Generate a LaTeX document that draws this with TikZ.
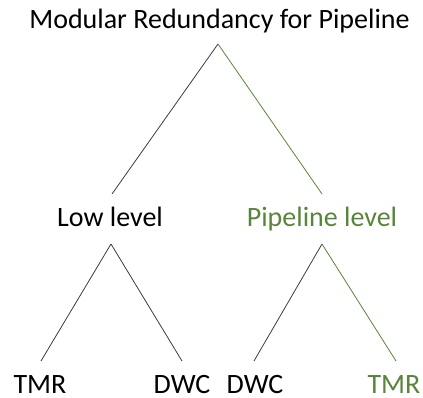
\documentclass[tikz,border=0pt]{standalone}
\usepackage{fontspec}
\setmainfont{Carlito}
\definecolor{leafgreen}{RGB}{88,133,58}
\definecolor{linegray}{RGB}{60,60,60}
\begin{document}
\begin{tikzpicture}[x=1pt,y=-1pt,
  label/.style={font=\fontsize{28}{30}\selectfont, inner sep=0pt, anchor=base},
  edge/.style={draw=linegray, line width=0.8pt},
  greenedge/.style={draw=leafgreen, line width=0.8pt}]
\useasboundingbox (0,0) rectangle (423,398);

% labels
\node[label] (title) at (219.5,29) {Modular Redundancy for Pipeline};
\node[label] (low) at (110,227) {Low level};
\node[label, text=leafgreen] (pipe) at (322,227) {Pipeline level};
\node[label] (tmrA) at (40,393) {TMR};
\node[label] (dwcA) at (182,393) {DWC};
\node[label] (dwcB) at (255,393) {DWC};
\node[label, text=leafgreen] (tmrB) at (394,393) {TMR};

% branch points
\coordinate (rootTop) at (218,44);
\coordinate (lowIn) at (112,194);
\coordinate (pipeIn) at (322,194);
\coordinate (lowTop) at (111,244);
\coordinate (pipeTop) at (322,244);
\coordinate (tmrAIn) at (41,361);
\coordinate (dwcAIn) at (182,361);
\coordinate (dwcBIn) at (254,361);
\coordinate (tmrBIn) at (396,361);

% branches
\draw[edge] (rootTop) -- (lowIn);
\draw[greenedge] (rootTop) -- (pipeIn);
\draw[edge] (lowTop) -- (tmrAIn);
\draw[edge] (lowTop) -- (dwcAIn);
\draw[edge] (pipeTop) -- (dwcBIn);
\draw[greenedge] (pipeTop) -- (tmrBIn);
\end{tikzpicture}
\end{document}
